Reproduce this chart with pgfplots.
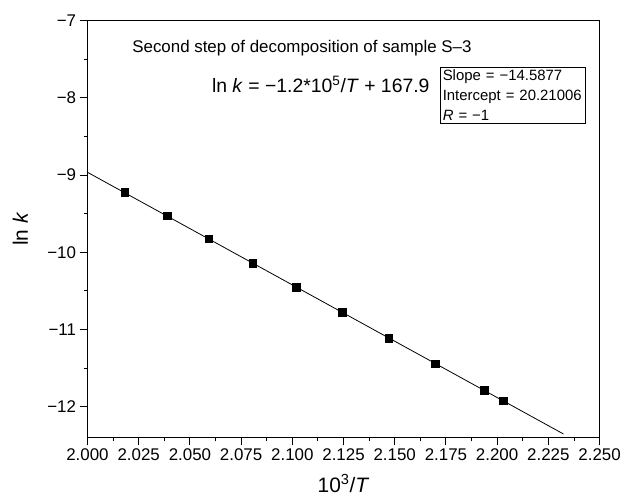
\documentclass[border=0pt]{standalone}
\usepackage{pgfplots}
\pgfplotsset{compat=1.18}
\usepackage{fontspec}
\setmainfont{Liberation Sans}
\begin{document}
\begin{tikzpicture}
\begin{axis}[
  name=ax,
  scale only axis,
  width=515bp, height=419.3bp,
  xmin=2.0, xmax=2.25, ymin=-12.4, ymax=-7,
  xtick={2.000,2.025,2.050,2.075,2.100,2.125,2.150,2.175,2.200,2.225,2.250},
  xticklabels={2.000,2.025,2.050,2.075,2.100,2.125,2.150,2.175,2.200,2.225,2.250},
  ytick={-12,-11,-10,-9,-8,-7},
  yticklabels={−12,−11,−10,−9,−8,−7},
  minor x tick num=1, minor y tick num=1,
  tick align=outside,
  xtick pos=left, ytick pos=left,
  major tick length=8bp, minor tick length=4bp,
  tick style={black, line width=0.9bp},
  axis line style={line width=1bp},
  ticklabel style={font=\fontsize{17bp}{20bp}\selectfont},
  xlabel={10\textsuperscript{3}/\textit{T}},
  ylabel={ln \textit{k}},
  label style={font=\fontsize{21bp}{24bp}\selectfont},
  xlabel style={at={(axis description cs:0.5,-0.1312)}, anchor=base},
  ylabel style={at={(axis description cs:-0.1165,0.5)}, anchor=base},
  clip=false,
]
\addplot[black, line width=0.8bp, no markers] coordinates {(2.000,-8.965) (2.2324,-12.355)};
\addplot[only marks, mark=square*, mark size=3.8bp, black] coordinates {
(2.0181,-9.225) (2.0388,-9.528) (2.0592,-9.827) (2.0806,-10.140) (2.1019,-10.450)
(2.1243,-10.777) (2.1471,-11.111) (2.1698,-11.443) (2.1937,-11.791) (2.2029,-11.922)};
\node[anchor=base west, font=\fontsize{17bp}{20bp}\selectfont, inner sep=0] at (axis cs:2.0218,-7.412) {Second step of decomposition of sample S–3};
\node[anchor=base west, font=\fontsize{19.5bp}{22bp}\selectfont, inner sep=0] at (axis cs:2.0607,-7.934) {ln \textit{k} = −1.2*10\textsuperscript{5}/\textit{T} + 167.9};
\node[draw, line width=0.8bp, anchor=north west, align=left, inner xsep=2bp, inner ysep=3bp, text width=141bp, font=\fontsize{15bp}{19.8bp}\selectfont] at (axis cs:2.1723,-7.596) {Slope = −14.5877\\Intercept = 20.21006\\\textit{R} = −1};
\end{axis}
\path (ax.south west) ++(-88bp,-65bp) rectangle ++(624bp,505bp);
\end{tikzpicture}
\end{document}
